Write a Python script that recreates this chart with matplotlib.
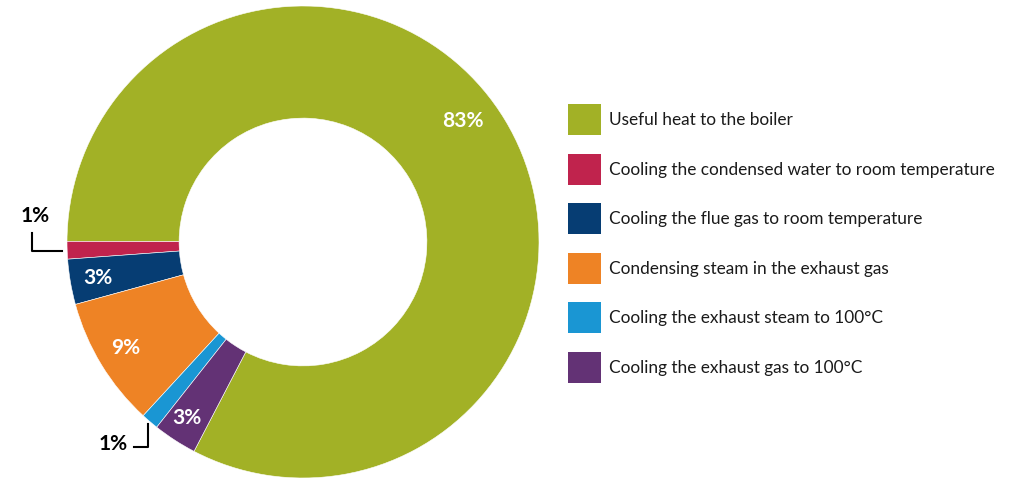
import matplotlib
matplotlib.use("Agg")
import matplotlib.pyplot as plt
from matplotlib.patches import Rectangle

plt.rcParams['font.family'] = ['Lato', 'DejaVu Sans']

categories = [
    "Useful heat to the boiler",
    "Cooling the condensed water to room temperature",
    "Cooling the flue gas to room temperature",
    "Condensing steam in the exhaust gas",
    "Cooling the exhaust steam to 100°C",
    "Cooling the exhaust gas to 100°C",
]
values = [82.6, 1.2, 3.1, 8.9, 1.2, 3.0]
labels = ["83%", "1%", "3%", "9%", "1%", "3%"]
colors = ["#A2B126", "#C0234D", "#063D73", "#EE8325", "#1A96D3", "#633275"]

W, H = 1023, 478
fig = plt.figure(figsize=(W / 100, H / 100), dpi=100)

# donut axes: center (303,242) px, radius 236 px
cx, cy, R = 303, 242, 236
ax = fig.add_axes([(cx - R) / W, (H - cy - R) / H, 2 * R / W, 2 * R / H])
ax.pie(values, colors=colors, startangle=242.5, counterclock=True, radius=1.0,
       wedgeprops=dict(width=0.475, edgecolor="white", linewidth=0.4))
ax.set_xlim(-1, 1)
ax.set_ylim(-1, 1)
ax.set_aspect("equal")
ax.axis("off")

# overlay in pixel coordinates
ov = fig.add_axes([0, 0, 1, 1])
ov.set_xlim(0, W)
ov.set_ylim(H, 0)
ov.axis("off")

# labels inside slices (white)
inside = {0: (463, 121), 2: (98, 278), 3: (126, 348), 5: (187, 418)}
for i, (x, y) in inside.items():
    ov.text(x, y, labels[i], color="white", fontsize=15, fontweight="bold",
            ha="center", va="center")

# outside labels with leader lines
ov.text(35, 216, labels[1], color="black", fontsize=15, fontweight="bold",
        ha="center", va="center")
ov.plot([32, 32, 62], [233, 251, 251], color="black", lw=1.5)
ov.text(113, 444, labels[4], color="black", fontsize=15, fontweight="bold",
        ha="center", va="center")
ov.plot([134, 148, 148], [447, 447, 424], color="black", lw=1.5)

# legend
y0, dy = 104, 49.6
for i, (cat, col) in enumerate(zip(categories, colors)):
    y = y0 + i * dy
    ov.add_patch(Rectangle((568, y), 33, 31, facecolor=col, edgecolor="none"))
    ov.text(609, y + 16, cat, fontsize=12.4, color="#1a1a1a", ha="left", va="center")

fig.savefig("out.png", dpi=100)
